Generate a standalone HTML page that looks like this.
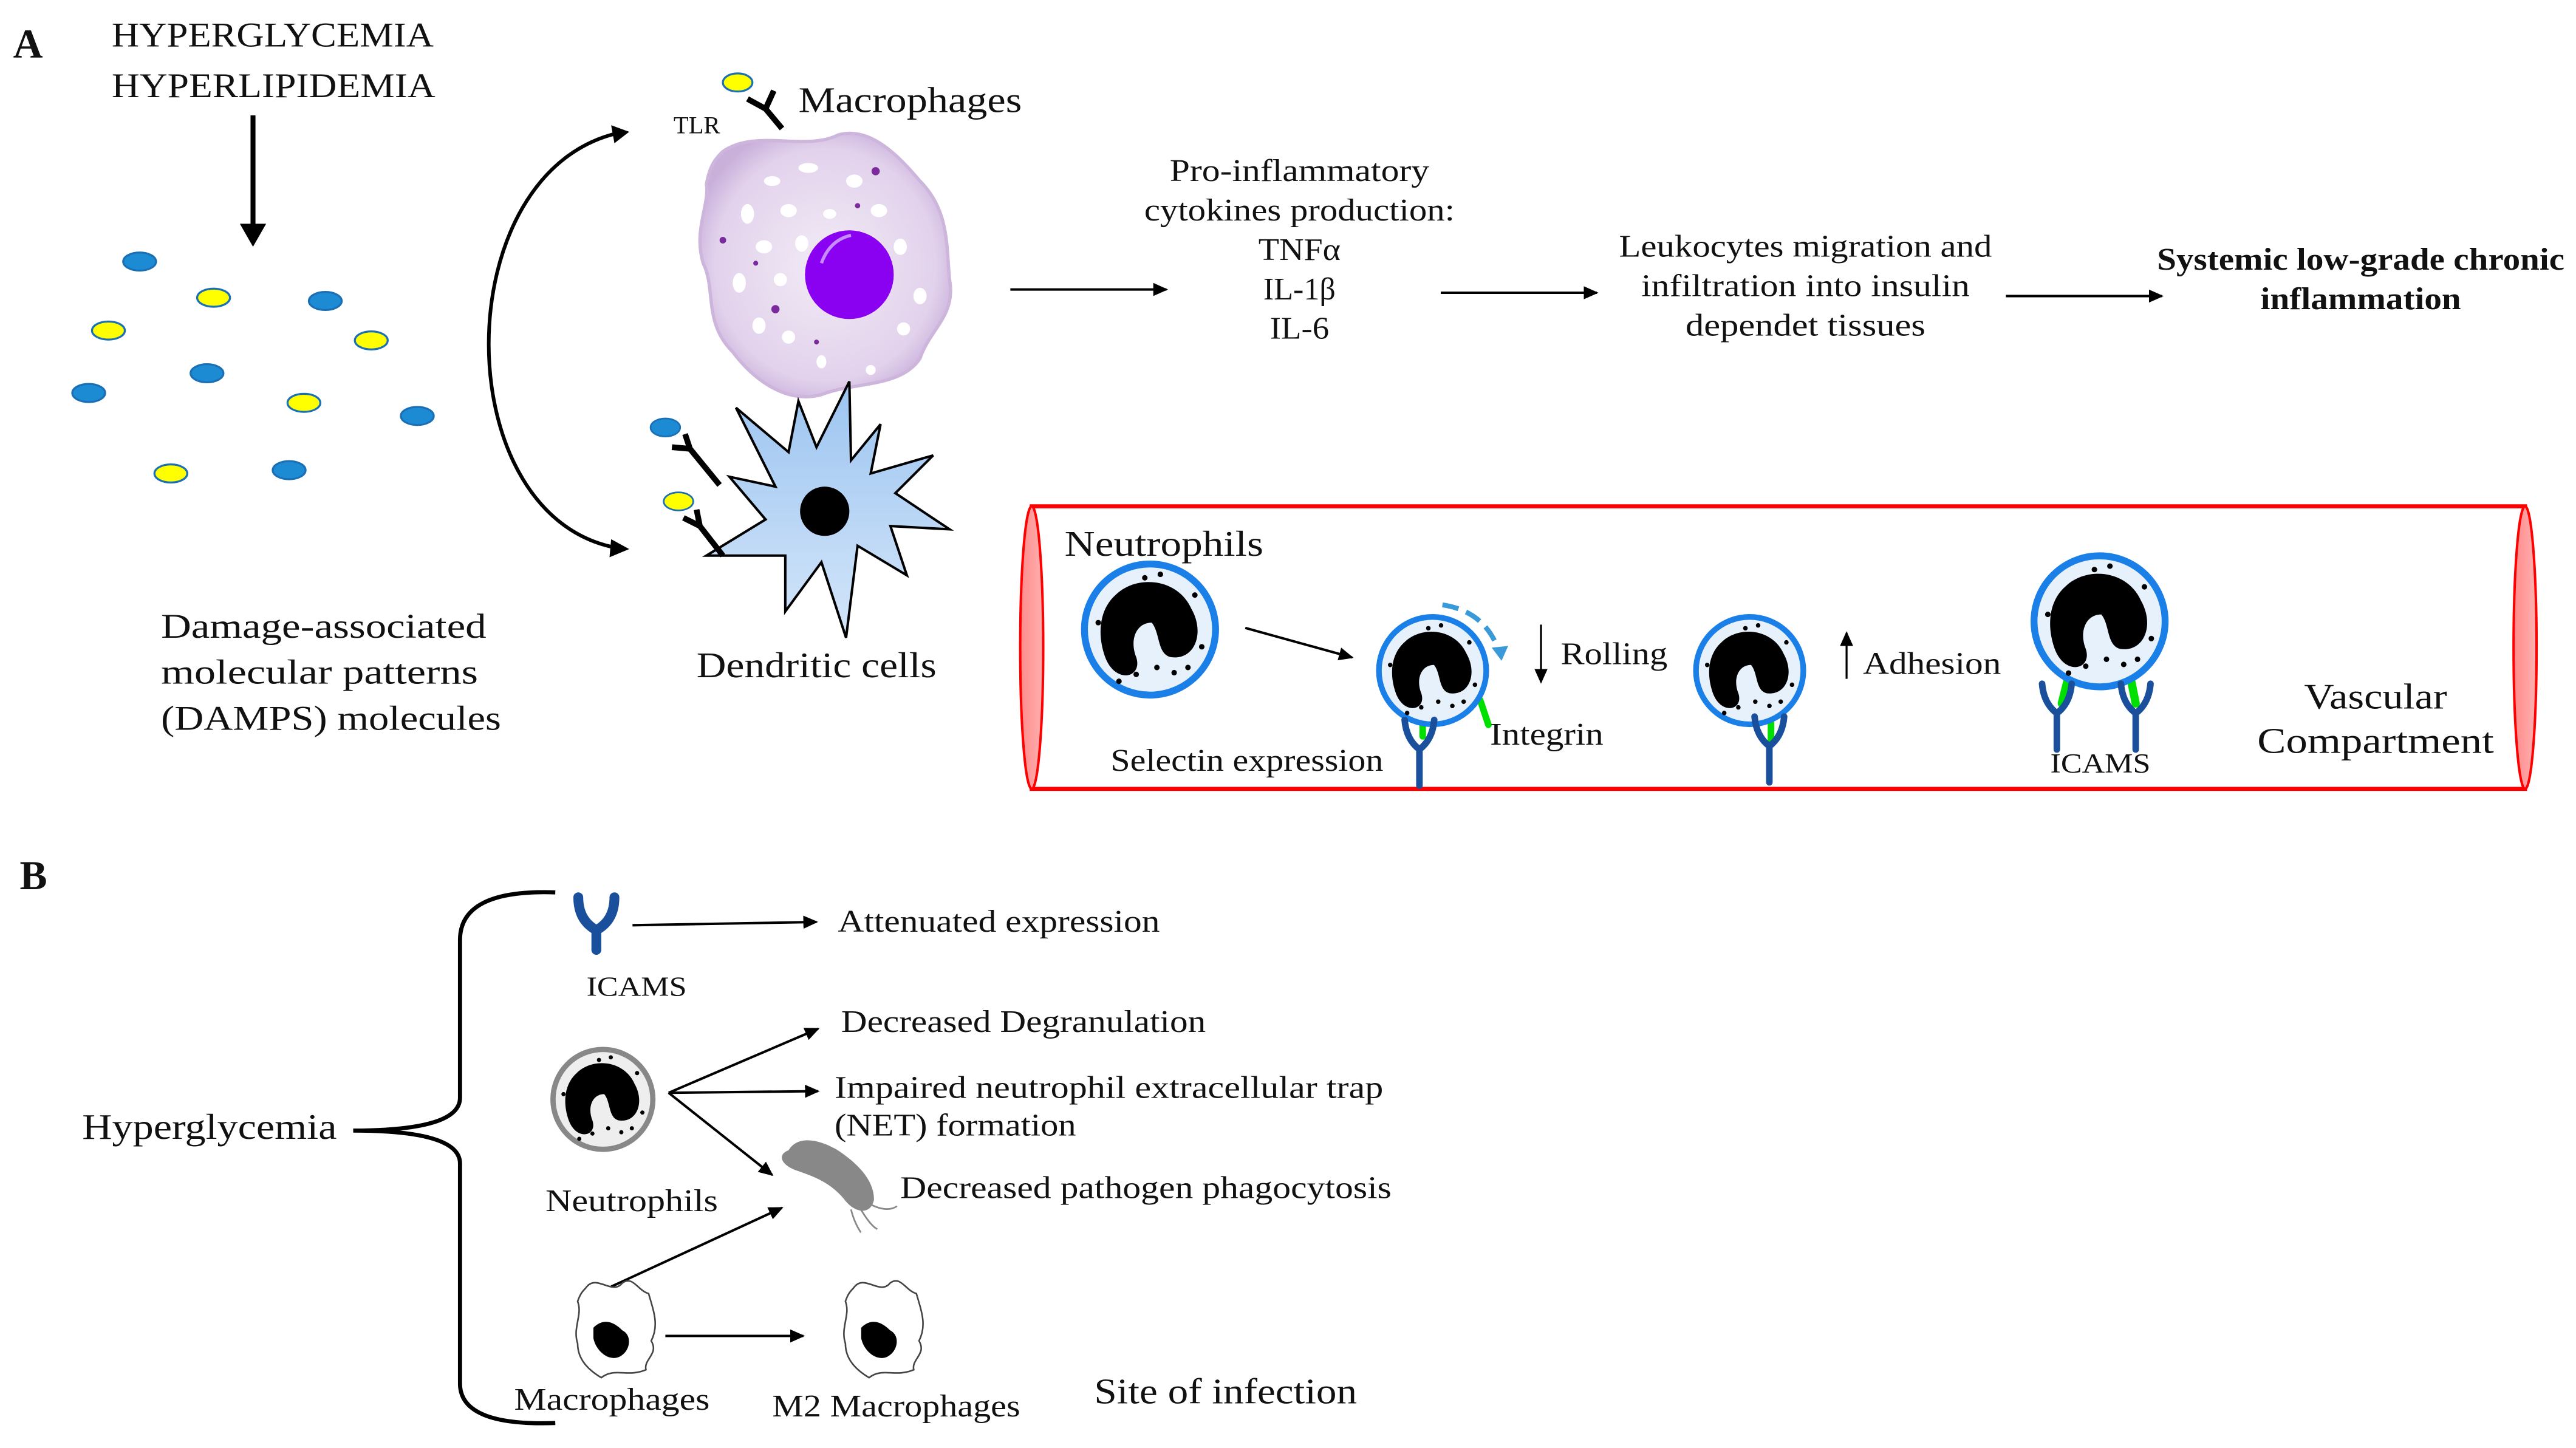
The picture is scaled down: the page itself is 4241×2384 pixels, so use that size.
<!DOCTYPE html>
<html><head><meta charset="utf-8"><style>html,body{margin:0;padding:0;background:#fff}svg{display:block}text{font-family:"Liberation Serif",serif;fill:#111}</style></head>
<body>
<svg width="4241" height="2384" viewBox="0 0 1568 881" xmlns="http://www.w3.org/2000/svg">
<defs>
<marker id="ar" markerWidth="10" markerHeight="10" refX="8" refY="5" orient="auto" markerUnits="userSpaceOnUse"><path d="M0,1 L9,5 L0,9 Z" fill="#000"/></marker>
<radialGradient id="mg" cx="50%" cy="50%" r="55%"><stop offset="0" stop-color="#f2ebf6"/><stop offset="0.8" stop-color="#e2d2ec"/><stop offset="1" stop-color="#c9b0db"/></radialGradient>
<linearGradient id="dg" x1="0" y1="0" x2="0" y2="1"><stop offset="0" stop-color="#9cc4f0"/><stop offset="1" stop-color="#d4e6fa"/></linearGradient>
<linearGradient id="vg" x1="0" y1="0" x2="1" y2="0"><stop offset="0" stop-color="#ff8a8a"/><stop offset="1" stop-color="#ffb0b0"/></linearGradient>
<g id="nuc">
<path d="M-20,-20 C-8,-32 16,-30 24,-12 C32,2 26,18 12,16 C4,14 6,2 1,-4 C-8,-4 -12,6 -8,16 C-4,28 -20,32 -26,16 C-31,2 -29,-12 -20,-20Z" fill="#000"/>
<circle cx="-30" cy="-4" r="1.6" fill="#000"/><circle cx="14" cy="25" r="1.6" fill="#000"/><circle cx="-8" cy="26" r="1.6" fill="#000"/><circle cx="4" cy="22" r="1.6" fill="#000"/><circle cx="22" cy="22" r="1.6" fill="#000"/><circle cx="-3" cy="-30" r="1.6" fill="#000"/><circle cx="6" cy="-32" r="1.6" fill="#000"/><circle cx="-18" cy="30" r="1.6" fill="#000"/><circle cx="26" cy="-20" r="1.6" fill="#000"/><circle cx="30" cy="10" r="1.6" fill="#000"/>
</g>
<g id="neu"><circle r="38" fill="#e6f1fc" stroke="#1a7fe6" stroke-width="4"/><use href="#nuc"/></g>
<g id="neug"><circle r="38" fill="#eeeeee" stroke="#888" stroke-width="4"/><use href="#nuc"/></g>
<g id="ycam"><path d="M-9,-14 Q-8,-2 0,4 Q8,-2 9,-14 M0,4 L0,26" fill="none" stroke="#1a4f9c" stroke-width="4" stroke-linecap="round"/></g>
<g id="mac">
<path d="M-22,-30 C-14,-42 -2,-24 6,-34 C14,-40 18,-28 26,-26 C30,-12 34,-2 28,10 C34,20 22,24 24,32 C10,38 0,30 -10,38 C-20,32 -28,24 -28,12 C-32,0 -24,-10 -28,-20 C-26,-26 -24,-28 -22,-30Z" fill="#fff" stroke="#444" stroke-width="1.2"/>
<path d="M-16,0 C-8,-8 0,-4 6,2 C14,6 12,18 4,22 C-4,26 -14,18 -16,8Z" fill="#000"/>
</g>
</defs>

<!-- Panel A -->
<text x="8" y="35" font-size="25" font-weight="bold">A</text>
<text x="68" y="28" font-size="21" textLength="196" lengthAdjust="spacingAndGlyphs">HYPERGLYCEMIA</text>
<text x="68" y="59" font-size="21" textLength="197" lengthAdjust="spacingAndGlyphs">HYPERLIPIDEMIA</text>
<line x1="154" y1="70" x2="154" y2="138" stroke="#000" stroke-width="3"/>
<path d="M146,136 L154,150 L162,136Z" fill="#000"/>

<g stroke="#1a6fb5" stroke-width="1.2">
<ellipse cx="85" cy="159" rx="10" ry="5.5" fill="#1d8ad4"/>
<ellipse cx="198" cy="183" rx="10" ry="5.5" fill="#1d8ad4"/>
<ellipse cx="126" cy="227" rx="10" ry="5.5" fill="#1d8ad4"/>
<ellipse cx="54" cy="239" rx="10" ry="5.5" fill="#1d8ad4"/>
<ellipse cx="254" cy="253" rx="10" ry="5.5" fill="#1d8ad4"/>
<ellipse cx="176" cy="286" rx="10" ry="5.5" fill="#1d8ad4"/>
<ellipse cx="130" cy="181" rx="10" ry="5.5" fill="#ffff00"/>
<ellipse cx="66" cy="201" rx="10" ry="5.5" fill="#ffff00"/>
<ellipse cx="226" cy="207" rx="10" ry="5.5" fill="#ffff00"/>
<ellipse cx="185" cy="245" rx="10" ry="5.5" fill="#ffff00"/>
<ellipse cx="104" cy="288" rx="10" ry="5.5" fill="#ffff00"/>
</g>
<text x="98" y="388" font-size="21" textLength="198" lengthAdjust="spacingAndGlyphs">Damage-associated</text>
<text x="98" y="416" font-size="21" textLength="193" lengthAdjust="spacingAndGlyphs">molecular patterns</text>
<text x="98" y="444" font-size="21" textLength="207" lengthAdjust="spacingAndGlyphs">(DAMPS) molecules</text>

<path d="M380,80 C270,100 270,320 380,334" fill="none" stroke="#000" stroke-width="2.2"/>
<path d="M372,76 L383,80 L374,87Z" fill="#000"/>
<path d="M372,328 L383,334 L371,339Z" fill="#000"/>

<!-- Macrophage -->
<path d="M440,92 C460,78 490,92 510,82 C530,76 548,96 560,110 C578,128 576,150 578,170 C582,192 566,200 560,218 C548,236 520,232 500,240 C478,246 458,230 446,214 C428,196 436,176 428,160 C422,140 432,124 430,112 C432,100 436,96 440,92Z" fill="url(#mg)" stroke="#cdb5dc" stroke-width="2"/>
<g fill="#fff">
<ellipse cx="470" cy="110" rx="5" ry="3"/><ellipse cx="492" cy="102" rx="6" ry="3"/><ellipse cx="520" cy="110" rx="5" ry="4"/><ellipse cx="455" cy="130" rx="4" ry="6"/><ellipse cx="480" cy="128" rx="5" ry="4"/><ellipse cx="505" cy="130" rx="4" ry="3"/><ellipse cx="535" cy="128" rx="5" ry="4"/><ellipse cx="548" cy="150" rx="4" ry="5"/><ellipse cx="465" cy="150" rx="5" ry="4"/><ellipse cx="488" cy="148" rx="4" ry="5"/><ellipse cx="450" cy="172" rx="4" ry="6"/><ellipse cx="475" cy="170" rx="4" ry="4"/><ellipse cx="462" cy="198" rx="4" ry="5"/><ellipse cx="480" cy="205" rx="4" ry="4"/><ellipse cx="500" cy="220" rx="3" ry="4"/><ellipse cx="550" cy="200" rx="4" ry="4"/><ellipse cx="560" cy="180" rx="4" ry="5"/><ellipse cx="530" cy="225" rx="3" ry="3"/>
</g>
<g fill="#7a2a9c"><circle cx="533" cy="104" r="2.5"/><circle cx="472" cy="188" r="2.5"/><circle cx="440" cy="146" r="2"/><circle cx="522" cy="125" r="1.6"/><circle cx="460" cy="160" r="1.5"/><circle cx="497" cy="208" r="1.5"/></g>
<circle cx="517" cy="167" r="27" fill="#8a00f0"/>
<path d="M500,160 Q505,146 518,143" fill="none" stroke="#c68bff" stroke-width="2"/>
<text x="410" y="81" font-size="15">TLR</text>
<ellipse cx="449" cy="50" rx="9" ry="5.5" fill="#ffff00" stroke="#1a6fb5" stroke-width="1.2"/>
<path d="M455,60 L466,66 L476,78 M466,66 L471,55" fill="none" stroke="#000" stroke-width="3.5"/>
<text x="486" y="68" font-size="22" textLength="136" lengthAdjust="spacingAndGlyphs">Macrophages</text>

<!-- Dendritic -->
<path d="M517,232 L518,280 L536,258 L530,288 L568,277 L545,300 L578,322 L542,320 L552,350 L522,332 L515,388 L500,342 L478,372 L478,338 L430,338 L466,316 L444,290 L472,296 L448,248 L480,275 L486,244 L497,272Z" fill="url(#dg)" stroke="#000" stroke-width="1.5"/>
<circle cx="502" cy="311" r="15" fill="#000"/>
<ellipse cx="405" cy="260" rx="9" ry="5.5" fill="#1d8ad4" stroke="#1a6fb5"/>
<path d="M409,272 L420,273 L438,295 M420,273 L417,264" fill="none" stroke="#000" stroke-width="3.5"/>
<ellipse cx="413" cy="305" rx="9" ry="5.5" fill="#ffff00" stroke="#1a6fb5"/>
<path d="M416,315 L426,320 L440,338 M426,320 L424,310" fill="none" stroke="#000" stroke-width="3.5"/>
<text x="424" y="412" font-size="22" textLength="146" lengthAdjust="spacingAndGlyphs">Dendritic cells</text>

<!-- flow -->
<line x1="615" y1="176" x2="710" y2="176" stroke="#000" stroke-width="1.5" marker-end="url(#ar)"/>
<g font-size="19" text-anchor="middle">
<text x="791" y="110" textLength="158" lengthAdjust="spacingAndGlyphs">Pro-inflammatory</text>
<text x="791" y="134" textLength="189" lengthAdjust="spacingAndGlyphs">cytokines production:</text>
<text x="791" y="158" textLength="50" lengthAdjust="spacingAndGlyphs">TNFα</text>
<text x="791" y="182" textLength="44" lengthAdjust="spacingAndGlyphs">IL-1β</text>
<text x="791" y="206" textLength="36" lengthAdjust="spacingAndGlyphs">IL-6</text>
</g>
<line x1="877" y1="178" x2="972" y2="178" stroke="#000" stroke-width="1.5" marker-end="url(#ar)"/>
<g font-size="19" text-anchor="middle">
<text x="1099" y="156" textLength="227" lengthAdjust="spacingAndGlyphs">Leukocytes migration and</text>
<text x="1099" y="180" textLength="200" lengthAdjust="spacingAndGlyphs">infiltration into insulin</text>
<text x="1099" y="204" textLength="146" lengthAdjust="spacingAndGlyphs">dependet  tissues</text>
</g>
<line x1="1221" y1="180" x2="1316" y2="180" stroke="#000" stroke-width="1.5" marker-end="url(#ar)"/>
<g font-size="19" text-anchor="middle" font-weight="bold">
<text x="1437" y="164" textLength="248" lengthAdjust="spacingAndGlyphs">Systemic low-grade chronic</text>
<text x="1437" y="188" textLength="122" lengthAdjust="spacingAndGlyphs">inflammation</text>
</g>

<!-- vessel -->
<rect x="628" y="308" width="909" height="172" fill="#fff" stroke="#ff0000" stroke-width="2.5"/>
<ellipse cx="628" cy="394" rx="7" ry="86" fill="url(#vg)" stroke="#ff0000" stroke-width="1.5"/>
<ellipse cx="1537" cy="394" rx="7" ry="86" fill="url(#vg)" stroke="#ff0000" stroke-width="1.5"/>
<text x="648" y="338" font-size="22" textLength="121" lengthAdjust="spacingAndGlyphs">Neutrophils</text>
<g transform="translate(700,383) scale(1.05)"><use href="#neu"/></g>
<line x1="758" y1="382" x2="823" y2="400" stroke="#000" stroke-width="1.5" marker-end="url(#ar)"/>
<path d="M866,448 L866,441 M901,426 L906,441" stroke="#00e000" stroke-width="4" stroke-linecap="round"/>
<g transform="translate(872,408) scale(0.86)"><use href="#neu"/></g>
<path d="M878,368 Q905,372 913,398" fill="none" stroke="#3a9ad9" stroke-width="3" stroke-dasharray="10,5"/>
<path d="M908,394 L914,402 L918,393Z" fill="#3a9ad9"/>
<use href="#ycam" x="864" y="452"/>
<line x1="938" y1="380" x2="938" y2="415" stroke="#000" stroke-width="1.2" marker-end="url(#ar)"/>
<text x="950" y="404" font-size="19" textLength="65" lengthAdjust="spacingAndGlyphs">Rolling</text>
<text x="907" y="453" font-size="19" textLength="69" lengthAdjust="spacingAndGlyphs">Integrin</text>
<text x="676" y="469" font-size="19" textLength="166" lengthAdjust="spacingAndGlyphs">Selectin expression</text>
<path d="M1078,440 L1078,452 M1045,424 L1046,433" stroke="#00e000" stroke-width="4" stroke-linecap="round"/>
<g transform="translate(1065,408) scale(0.86)"><use href="#neu"/></g>
<use href="#ycam" x="1077" y="450"/>
<line x1="1124" y1="413" x2="1124" y2="385" stroke="#000" stroke-width="1.2" marker-end="url(#ar)"/>
<text x="1134" y="410" font-size="19" textLength="84" lengthAdjust="spacingAndGlyphs">Adhesion</text>
<path d="M1260,408 L1255,428 M1296,408 L1300,428" stroke="#00e000" stroke-width="5" stroke-linecap="round"/>
<g transform="translate(1278,378) scale(1.05)"><use href="#neu"/></g>
<use href="#ycam" x="1252" y="430"/>
<use href="#ycam" x="1300" y="430"/>
<text x="1248" y="470" font-size="17" textLength="61" lengthAdjust="spacingAndGlyphs">ICAMS</text>
<g font-size="22" text-anchor="middle"><text x="1446" y="431" textLength="87" lengthAdjust="spacingAndGlyphs">Vascular</text><text x="1446" y="458" textLength="144" lengthAdjust="spacingAndGlyphs">Compartment</text></g>

<!-- Panel B -->
<text x="12" y="541" font-size="25" font-weight="bold">B</text>
<path d="M338,543 Q280,541 280,572 L280,668 Q280,688 215,688 Q280,688 280,708 L280,842 Q280,868 338,866" fill="none" stroke="#000" stroke-width="2.5"/>
<text x="50" y="693" font-size="22" textLength="155" lengthAdjust="spacingAndGlyphs">Hyperglycemia</text>
<path d="M352,546 Q352,560 363,566 Q374,560 374,546 M363,566 L363,578" fill="none" stroke="#1a4f9c" stroke-width="6" stroke-linecap="round"/>
<text x="357" y="606" font-size="17" textLength="61" lengthAdjust="spacingAndGlyphs">ICAMS</text>
<line x1="385" y1="563" x2="497" y2="561" stroke="#000" stroke-width="1.5" marker-end="url(#ar)"/>
<text x="510" y="567" font-size="19" textLength="196" lengthAdjust="spacingAndGlyphs">Attenuated  expression</text>
<g transform="translate(367,669) scale(0.8)"><use href="#neug"/></g>
<text x="332" y="737" font-size="19" textLength="105" lengthAdjust="spacingAndGlyphs">Neutrophils</text>
<g stroke="#000" stroke-width="1.5" fill="none">
<line x1="407" y1="665" x2="498" y2="626" marker-end="url(#ar)"/>
<line x1="407" y1="665" x2="498" y2="664" marker-end="url(#ar)"/>
<line x1="407" y1="665" x2="470" y2="715" marker-end="url(#ar)"/>
<line x1="372" y1="783" x2="476" y2="735" marker-end="url(#ar)"/>
<line x1="405" y1="813" x2="489" y2="813" marker-end="url(#ar)"/>
</g>
<text x="512" y="628" font-size="19" textLength="222" lengthAdjust="spacingAndGlyphs">Decreased Degranulation</text>
<text x="508" y="668" font-size="19" textLength="334" lengthAdjust="spacingAndGlyphs">Impaired neutrophil extracellular trap</text>
<text x="508" y="691" font-size="19" textLength="147" lengthAdjust="spacingAndGlyphs">(NET) formation</text>
<path d="M480,700 C486,690 500,694 510,700 C522,708 532,718 532,730 C530,740 520,738 514,730 C506,720 496,716 484,712 C474,708 474,702 480,700Z" fill="#888"/>
<path d="M530,733 Q540,738 546,734 M524,736 Q530,746 534,748 M518,736 Q520,744 524,750" fill="none" stroke="#888" stroke-width="1"/>
<text x="548" y="729" font-size="19" textLength="299" lengthAdjust="spacingAndGlyphs">Decreased pathogen phagocytosis</text>
<g transform="translate(374,808) scale(0.8)"><use href="#mac"/></g>
<text x="313" y="858" font-size="19" textLength="119" lengthAdjust="spacingAndGlyphs">Macrophages</text>
<g transform="translate(537,808) scale(0.8)"><use href="#mac"/></g>
<text x="470" y="862" font-size="19" textLength="151" lengthAdjust="spacingAndGlyphs">M2 Macrophages</text>
<text x="666" y="854" font-size="22" textLength="160" lengthAdjust="spacingAndGlyphs">Site of infection</text>
</svg>
</body></html>
